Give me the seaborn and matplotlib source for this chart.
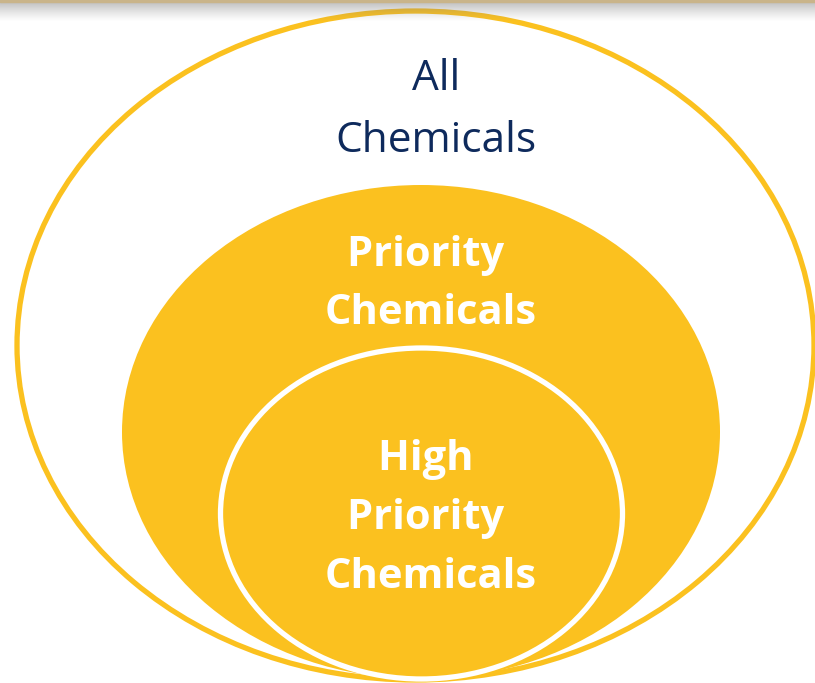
import numpy as np
import matplotlib.pyplot as plt
import seaborn as sns
from matplotlib.patches import Ellipse

# nested sets, outermost first
labels = ['All\nChemicals', 'Priority \nChemicals', 'High \nPriority \nChemicals']
text_colors = ['#0e2a5c', 'white', 'white']
weights = ['normal', 'bold', 'bold']

sns.set_theme(style='white')
plt.rcParams['font.family'] = ['Open Sans', 'DejaVu Sans']

gold = '#fbc11f'
fig = plt.figure(figsize=(8.15, 6.83), dpi=100)
ax = fig.add_axes([0, 0, 1, 1])
ax.set_xlim(0, 815)
ax.set_ylim(683, 0)
ax.axis('off')

# outer set: outline only
ax.add_patch(Ellipse((415.5, 345.5), 797, 669, fill=False, ec=gold, lw=3.8, zorder=1))
# middle set: filled
ax.add_patch(Ellipse((421, 432), 598, 494, fc=gold, ec='none', zorder=2))
# inner set: filled, white rim
ax.add_patch(Ellipse((421.5, 513.5), 402, 331, fc=gold, ec='white', lw=3.8, zorder=3))

# label lines (centre x, first baseline, line spacing)
layout = [(436, 90, 62), (431, 266, 58), (431, 470, 59)]
for lab, col, w, (x0, y0, dy) in zip(labels, text_colors, weights, layout):
    size = 30.5 if w == 'normal' else 30
    for i, line in enumerate(lab.split('\n')):
        ax.text(x0, y0 + i * dy, line, ha='center', va='baseline', color=col,
                fontsize=size, fontweight=w, zorder=5)

# slide header shadow at top
h = 22
alpha = np.linspace(0.6, 0.0, h) ** 1.2
img = np.ones((h, 2, 4))
img[..., :3] = 0.5
img[..., 3] = alpha[:, None]
ax.imshow(img, extent=(0, 815, h, 0), aspect='auto', zorder=6)
ax.axhspan(0, 2, color='#c9b48a', zorder=7)
ax.set_xlim(0, 815)
ax.set_ylim(683, 0)

fig.savefig('out.png', dpi=100)
